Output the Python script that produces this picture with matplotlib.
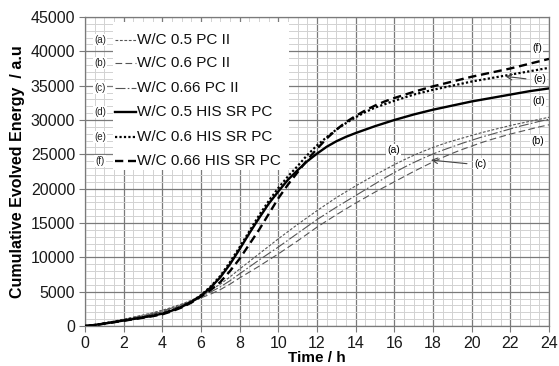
import matplotlib
matplotlib.use("Agg")
import matplotlib.pyplot as plt
from matplotlib.lines import Line2D
from matplotlib.patches import Rectangle
from matplotlib.ticker import MultipleLocator

plt.rcParams['font.family'] = ['Liberation Sans', 'DejaVu Sans']

time_h = [0, 0.5, 1, 1.5, 2, 2.5, 3, 3.5, 4, 4.5, 5, 5.5, 6, 6.5, 7, 7.5, 8, 8.5, 9, 9.5,
          10, 10.5, 11, 11.5, 12, 12.5, 13, 13.5, 14, 14.5, 15, 15.5, 16, 16.5, 17, 17.5,
          18, 18.5, 19, 19.5, 20, 20.5, 21, 21.5, 22, 22.5, 23, 23.5, 24]

wc05_pc2 = [0, 200, 450, 720, 1000, 1300, 1600, 1930, 2300, 2720, 3200, 3750, 4400, 5200,
            6100, 7150, 8300, 9400, 10500, 11600, 12700, 13750, 14800, 15800, 16800, 17750,
            18700, 19550, 20400, 21200, 22000, 22750, 23500, 24200, 24850, 25450, 26000,
            26500, 26950, 27350, 27750, 28150, 28500, 28850, 29200, 29500, 29800, 30100, 30400]
wc06_pc2 = [0, 180, 400, 640, 900, 1170, 1450, 1760, 2100, 2520, 3000, 3520, 4100, 4650,
            5300, 6100, 7000, 7850, 8700, 9600, 10500, 11450, 12400, 13400, 14400, 15300,
            16200, 17050, 17900, 18700, 19500, 20250, 21000, 21750, 22500, 23200, 23900,
            24550, 25150, 25700, 26200, 26700, 27150, 27550, 27950, 28300, 28650, 29000, 29300]
wc066_pc2 = [0, 190, 420, 680, 950, 1220, 1500, 1830, 2200, 2620, 3100, 3650, 4300, 4950,
             5700, 6600, 7600, 8600, 9600, 10550, 11500, 12500, 13500, 14500, 15500, 16400,
             17300, 18150, 19000, 19850, 20700, 21550, 22350, 23100, 23800, 24450, 25050,
             25600, 26100, 26600, 27050, 27500, 27900, 28300, 28700, 29100, 29450, 29800, 30100]
wc05_his = [0, 150, 350, 570, 800, 1020, 1250, 1500, 1800, 2250, 2800, 3500, 4400, 5600,
            7100, 9000, 11200, 13500, 15700, 17800, 19600, 21300, 22700, 24000, 25100, 26100,
            26900, 27550, 28100, 28600, 29100, 29550, 30000, 30400, 30800, 31150, 31500,
            31800, 32100, 32400, 32700, 32950, 33200, 33450, 33700, 33950, 34200, 34400, 34600]
wc06_his = [0, 160, 370, 590, 820, 1050, 1280, 1550, 1850, 2280, 2800, 3550, 4500, 5750,
            7300, 9300, 11500, 13800, 16100, 18200, 20100, 21800, 23300, 24900, 26300, 27500,
            28600, 29550, 30400, 31150, 31800, 32300, 32800, 33250, 33700, 34050, 34400,
            34700, 35000, 35300, 35600, 35850, 36100, 36350, 36600, 36850, 37100, 37350, 37600]
wc066_his = [0, 140, 340, 550, 760, 980, 1200, 1430, 1700, 2150, 2700, 3400, 4300, 5250,
             6400, 8000, 9800, 11900, 14000, 16300, 18600, 20600, 22400, 24200, 25800, 27300,
             28600, 29700, 30600, 31400, 32100, 32700, 33200, 33650, 34100, 34500, 34900,
             35250, 35600, 35950, 36300, 36600, 36900, 37200, 37500, 37850, 38200, 38550, 38900]

series_labels = ["W/C 0.5 PC II", "W/C 0.6 PC II", "W/C 0.66 PC II",
                 "W/C 0.5 HIS SR PC", "W/C 0.6 HIS SR PC", "W/C 0.66 HIS SR PC"]
series_tags = ["(a)", "(b)", "(c)", "(d)", "(e)", "(f)"]
series_values = [wc05_pc2, wc06_pc2, wc066_pc2, wc05_his, wc06_his, wc066_his]

styles = [
    dict(color="#555555", lw=0.8, ls=(0, (2.5, 1.5))),
    dict(color="#555555", lw=0.8, ls=(0, (6, 3))),
    dict(color="#555555", lw=0.8, ls=(0, (9, 2, 1.5, 2))),
    dict(color="#000000", lw=1.7, ls="-"),
    dict(color="#000000", lw=1.6, ls=(0, (1, 1))),
    dict(color="#000000", lw=1.7, ls=(0, (3.5, 2))),
]

fig = plt.figure(figsize=(5.59, 3.66), dpi=100)
ax = fig.add_axes([85 / 559, 1 - 326 / 366, 464 / 559, 309 / 366])

for vals, st in zip(series_values, styles):
    ax.plot(time_h, vals, color=st["color"], lw=st["lw"], ls=st["ls"], zorder=3)

ax.set_xlim(0, 24)
ax.set_ylim(0, 45000)
ax.xaxis.set_major_locator(MultipleLocator(2))
ax.xaxis.set_minor_locator(MultipleLocator(0.5))
ax.yaxis.set_major_locator(MultipleLocator(5000))
ax.yaxis.set_minor_locator(MultipleLocator(1000))
ax.grid(which="major", color="#7a7a7a", lw=0.9, zorder=1)
ax.grid(which="minor", color="#d2d2d2", lw=0.7, zorder=0)
ax.set_axisbelow(True)
for s in ax.spines.values():
    s.set_color("#7a7a7a")
    s.set_linewidth(0.9)
ax.tick_params(which="major", direction="out", length=4, color="#7a7a7a",
               labelsize=11.5, labelcolor="#1a1a1a", pad=3)
ax.tick_params(which="minor", length=0)
ax.set_xlabel("Time / h", fontsize=11, fontweight="bold", labelpad=0)
ax.set_ylabel("Cumulative Evolved Energy  / a.u", fontsize=11.5, fontweight="bold", labelpad=4)

# legend (manual)
ax.add_patch(Rectangle((28 / 464, 1 - 153 / 309), 176 / 464, 148 / 309,
                       transform=ax.transAxes, facecolor="white", edgecolor="none", zorder=4))
row_y = [40, 63, 88, 112, 137, 161]
for tag, lab, st, yp in zip(series_tags, series_labels, styles, row_y):
    yf = 1 - (yp - 17) / 309
    ax.text(15 / 464, yf, tag, transform=ax.transAxes, fontsize=7, ha="center", va="center",
            color="#222222", zorder=5,
            bbox=dict(boxstyle="square,pad=0.1", facecolor="white", edgecolor="none"))
    ax.add_line(Line2D([30 / 464, 51 / 464], [yf, yf], transform=ax.transAxes,
                       color=st["color"], lw=st["lw"], ls=st["ls"], zorder=5))
    ax.text(52 / 464, yf, lab, transform=ax.transAxes, fontsize=11, ha="left", va="center",
            color="#111111", zorder=5)

# curve annotations
bb = dict(boxstyle="square,pad=0.1", facecolor="white", edgecolor="none")
ax.text(23.4, 40500, "(f)", fontsize=7.5, ha="center", va="center", bbox=bb, zorder=6)
ax.text(23.5, 35900, "(e)", fontsize=7.5, ha="center", va="center", bbox=bb, zorder=6)
ax.text(23.45, 32800, "(d)", fontsize=7.5, ha="center", va="center", bbox=bb, zorder=6)
ax.text(23.4, 27000, "(b)", fontsize=7.5, ha="center", va="center", bbox=bb, zorder=6)
ax.text(15.95, 25600, "(a)", fontsize=7.5, ha="center", va="center", bbox=bb, zorder=6)
ax.text(20.45, 23600, "(c)", fontsize=7.5, ha="center", va="center", bbox=bb, zorder=6)
ax.annotate("", xy=(21.6, 36400), xytext=(22.95, 35950),
            arrowprops=dict(arrowstyle="->", color="#444444", lw=0.8), zorder=6)
ax.annotate("", xy=(17.75, 24200), xytext=(19.9, 23600),
            arrowprops=dict(arrowstyle="->", color="#444444", lw=0.8), zorder=6)

fig.savefig("out.png", dpi=100)
